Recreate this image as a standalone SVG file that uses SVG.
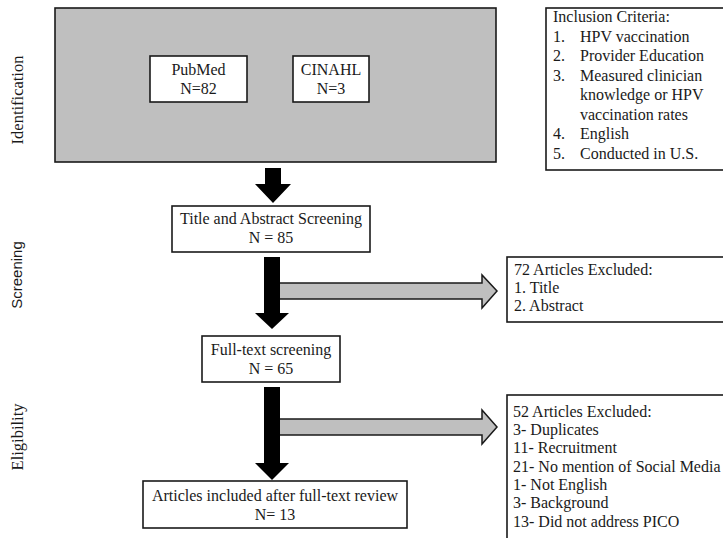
<svg xmlns="http://www.w3.org/2000/svg" width="723" height="538" viewBox="0 0 723 538">
  <style>
    .box { fill: #ffffff; stroke: #1a1a1a; stroke-width: 1.6; }
    .src { fill: #bfbfbf; stroke: #1a1a1a; stroke-width: 1.6; }
    .t { font-family: 'Liberation Serif', 'DejaVu Serif', 'Times New Roman', serif; font-size: 16px; fill: #1a1a1a; }
    .c { text-anchor: middle; }
    .side { font-family: 'Liberation Serif', 'DejaVu Serif', 'Times New Roman', serif; font-size: 16.5px; fill: #1a1a1a; text-anchor: middle; }
    .sideS { font-family: 'Liberation Sans', Arial, sans-serif; font-size: 15px; fill: #1a1a1a; text-anchor: middle; }
    .down { fill: #000000; }
    .right { fill: #bfbfbf; stroke: #1a1a1a; stroke-width: 1.5; stroke-linejoin: miter; }
  </style>

  <!-- phase labels -->
  <g id="phase-labels">
    <text class="side" transform="translate(23,100) rotate(-90)">Identification</text>
    <text class="sideS" transform="translate(22,275) rotate(-90)">Screening</text>
    <text class="side" transform="translate(23,437) rotate(-90)">Eligibility</text>
  </g>

  <!-- connectors: grey exclusion arrows first, black flow arrows on top -->
  <g id="connectors">
    <polygon class="right" points="276,283 482,283 482,275 497,291 482,308 482,299 276,299"/>
    <polygon class="right" points="276,419 482,419 482,410 497,427 482,444 482,435 276,435"/>
    <polygon class="down" points="265,168 281,168 281,184 291,184 273,203 255,184 265,184"/>
    <polygon class="down" points="264,257 280,257 280,313 289,313 272,329 255,313 264,313"/>
    <polygon class="down" points="264,387 280,387 280,463 289,463 272,480 255,463 264,463"/>
  </g>

  <!-- identification: database sources -->
  <g id="identification">
    <rect class="src" x="55" y="8" width="441" height="154"/>
    <g id="pubmed">
      <rect class="box" x="150" y="56" width="97" height="46"/>
      <text class="t c" x="198.5" y="75">PubMed</text>
      <text class="t c" x="198.5" y="94">N=82</text>
    </g>
    <g id="cinahl">
      <rect class="box" x="293" y="56" width="76" height="46"/>
      <text class="t c" x="331" y="75">CINAHL</text>
      <text class="t c" x="331" y="94">N=3</text>
    </g>
  </g>

  <g id="inclusion-criteria">
    <rect class="box" x="546" y="8" width="180" height="162"/>
    <text class="t" x="553" y="22">Inclusion Criteria:</text>
    <text class="t" x="553" y="41.5">1.</text>
    <text class="t" x="580" y="41.5">HPV vaccination</text>
    <text class="t" x="553" y="61">2.</text>
    <text class="t" x="580" y="61">Provider Education</text>
    <text class="t" x="553" y="80.5">3.</text>
    <text class="t" x="580" y="80.5">Measured clinician</text>
    <text class="t" x="580" y="100">knowledge or HPV</text>
    <text class="t" x="580" y="119.5">vaccination rates</text>
    <text class="t" x="553" y="139">4.</text>
    <text class="t" x="580" y="139">English</text>
    <text class="t" x="553" y="158.5">5.</text>
    <text class="t" x="580" y="158.5">Conducted in U.S.</text>
  </g>

  <g id="title-abstract-screening">
    <rect class="box" x="172" y="206" width="198" height="46"/>
    <text class="t c" x="271" y="224">Title and Abstract Screening</text>
    <text class="t c" x="271" y="243">N = 85</text>
  </g>

  <g id="excluded-screening">
    <rect class="box" x="507" y="257" width="222" height="65"/>
    <text class="t" x="514" y="275">72 Articles Excluded:</text>
    <text class="t" x="514" y="293">1. Title</text>
    <text class="t" x="514" y="311">2. Abstract</text>
  </g>

  <g id="full-text-screening">
    <rect class="box" x="202" y="336" width="138" height="46"/>
    <text class="t c" x="271" y="355">Full-text screening</text>
    <text class="t c" x="271" y="374">N = 65</text>
  </g>

  <g id="excluded-eligibility">
    <rect class="box" x="507" y="395" width="222" height="150"/>
    <text class="t" x="513" y="417">52 Articles Excluded:</text>
    <text class="t" x="513" y="435">3- Duplicates</text>
    <text class="t" x="513" y="453">11- Recruitment</text>
    <text class="t" x="513" y="471.5">21- No mention of Social Media</text>
    <text class="t" x="513" y="490">1- Not English</text>
    <text class="t" x="513" y="508">3- Background</text>
    <text class="t" x="513" y="526.5">13- Did not address PICO</text>
  </g>

  <g id="included">
    <rect class="box" x="143" y="481" width="264" height="47"/>
    <text class="t c" x="275" y="501">Articles included after full-text review</text>
    <text class="t c" x="275" y="520">N= 13</text>
  </g>
</svg>
